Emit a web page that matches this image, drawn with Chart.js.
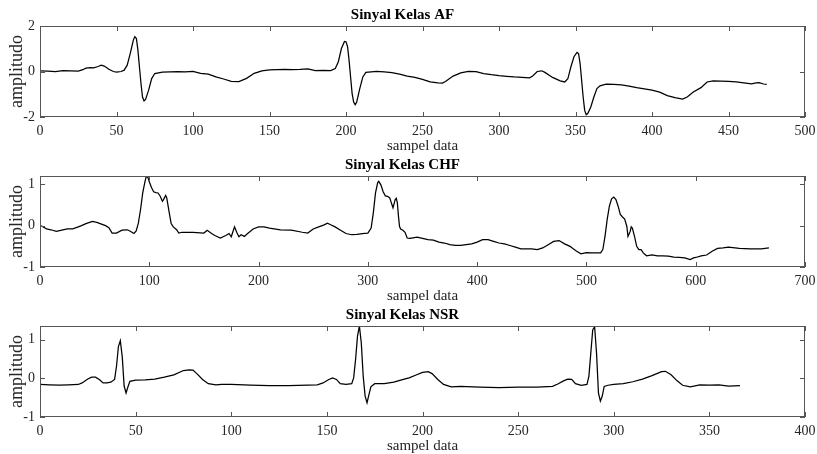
<!DOCTYPE html>
<html>
<head>
<meta charset="utf-8">
<script src="https://cdn.jsdelivr.net/npm/chart.js@4.4.1/dist/chart.umd.min.js"></script>
<style>
  body { margin: 0; background: #fff; width: 817px; height: 454px; overflow: hidden; position: relative; }
  canvas { position: absolute; left: 0; }
</style>
</head>
<body>
<canvas id="afChart" width="817" height="156" style="top:0px"></canvas>
<canvas id="chfChart" width="817" height="156" style="top:150px"></canvas>
<canvas id="nsrChart" width="817" height="156" style="top:300px"></canvas>
<script>
// Sinyal Kelas AF
const afIdx = [0,5,10,15,20,25,28,30,33,35,38,40,42,45,48,50,53,55,57,59,61,62,63,64,65,66,67,68,69,71,73,75,80,85,90,95,100,105,110,115,120,125,130,135,140,145,150,155,160,165,170,175,180,185,190,193,195,197,199,200,201,202,203,204,205,206,207,209,211,213,220,225,230,235,240,245,250,255,260,263,265,270,275,280,285,290,295,300,305,310,315,320,322,325,328,330,335,340,343,345,347,349,351,352,353,354,355,356,357,358,360,362,364,366,370,375,380,385,390,395,400,405,410,415,420,423,427,432,436,440,445,450,455,460,465,468,470,473,475];
const afAmp = [0.03,0.02,0.0,0.04,0.03,0.02,0.08,0.15,0.17,0.16,0.22,0.28,0.24,0.1,0.0,-0.03,0.0,0.06,0.28,0.8,1.38,1.53,1.45,0.94,0.2,-0.53,-1.12,-1.29,-1.23,-0.82,-0.31,-0.09,-0.03,-0.02,-0.01,-0.02,0.0,-0.08,-0.12,-0.24,-0.33,-0.43,-0.44,-0.3,-0.08,0.03,0.07,0.08,0.09,0.08,0.09,0.11,0.04,0.05,0.04,0.13,0.43,1.01,1.32,1.31,1.1,0.5,-0.24,-0.97,-1.34,-1.46,-1.34,-0.75,-0.24,-0.04,0.0,-0.02,-0.05,-0.12,-0.2,-0.26,-0.35,-0.46,-0.5,-0.51,-0.44,-0.2,-0.06,0.01,-0.01,-0.09,-0.14,-0.18,-0.21,-0.24,-0.26,-0.28,-0.2,0.0,0.03,-0.04,-0.26,-0.41,-0.46,-0.32,0.21,0.65,0.84,0.79,0.35,-0.38,-1.12,-1.71,-1.9,-1.85,-1.56,-1.12,-0.75,-0.63,-0.56,-0.57,-0.59,-0.64,-0.71,-0.76,-0.82,-0.91,-1.06,-1.15,-1.21,-1.12,-0.9,-0.71,-0.46,-0.41,-0.42,-0.43,-0.46,-0.5,-0.54,-0.5,-0.49,-0.55,-0.57];
const afXTicks = [0,50,100,150,200,250,300,350,400,450,500];
const afYTicks = [-2,0,2];

// Sinyal Kelas CHF
const chfIdx = [0,3,6,10,15,20,25,30,35,38,42,48,52,55,60,63,66,70,75,80,83,86,88,90,92,94,96,97,98,99,100,102,104,106,108,110,112,113,115,116,118,120,122,125,127,130,140,150,153,157,160,165,170,173,175,178,180,182,184,187,190,195,200,205,210,220,230,240,245,250,255,260,263,266,270,275,280,285,290,297,300,303,305,307,309,310,312,314,316,318,320,322,323,325,326,327,328,329,330,332,334,336,338,340,345,350,355,360,365,370,375,380,385,390,395,400,405,410,415,420,425,430,435,440,445,450,455,460,465,470,475,480,485,490,495,500,505,510,513,515,517,519,521,523,525,527,529,531,533,535,537,538,540,541,542,544,546,548,550,552,555,560,565,570,575,580,585,590,595,598,600,605,610,615,620,625,630,640,650,660,667];
const chfAmp = [0.0,-0.03,-0.08,-0.1,-0.14,-0.11,-0.08,-0.08,-0.03,0.0,0.05,0.1,0.08,0.05,0.0,-0.05,-0.18,-0.18,-0.11,-0.1,-0.14,-0.19,-0.13,0.06,0.39,0.79,1.06,1.17,1.19,1.15,1.06,0.92,0.82,0.8,0.79,0.71,0.59,0.63,0.73,0.67,0.35,0.05,-0.03,-0.1,-0.18,-0.16,-0.16,-0.18,-0.11,-0.19,-0.24,-0.3,-0.24,-0.19,-0.27,-0.03,-0.16,-0.27,-0.22,-0.26,-0.19,-0.08,-0.03,-0.03,-0.06,-0.1,-0.11,-0.16,-0.18,-0.08,-0.03,0.02,0.06,0.02,-0.03,-0.11,-0.19,-0.22,-0.21,-0.19,-0.18,-0.06,0.31,0.79,1.04,1.07,0.98,0.82,0.72,0.71,0.67,0.51,0.43,0.63,0.66,0.55,0.23,-0.02,-0.08,-0.11,-0.16,-0.3,-0.31,-0.3,-0.28,-0.31,-0.34,-0.35,-0.4,-0.42,-0.46,-0.48,-0.48,-0.46,-0.44,-0.4,-0.34,-0.34,-0.38,-0.42,-0.44,-0.48,-0.52,-0.56,-0.56,-0.56,-0.58,-0.54,-0.46,-0.38,-0.36,-0.44,-0.5,-0.6,-0.68,-0.65,-0.66,-0.66,-0.66,-0.58,-0.26,0.15,0.47,0.65,0.69,0.63,0.47,0.27,0.21,0.16,-0.02,-0.26,-0.14,-0.03,-0.06,-0.26,-0.5,-0.58,-0.58,-0.66,-0.73,-0.71,-0.73,-0.73,-0.74,-0.76,-0.77,-0.78,-0.82,-0.78,-0.77,-0.73,-0.71,-0.62,-0.55,-0.54,-0.52,-0.55,-0.56,-0.56,-0.54];
const chfXTicks = [0,100,200,300,400,500,600,700];
const chfYTicks = [-1,0,1];

// Sinyal Kelas NSR
const nsrIdx = [0,5,10,15,20,22,25,27,29,31,33,35,37,39,40,41,42,43,44,45,46,47,50,55,60,65,70,75,78,80,82,85,88,92,95,100,110,120,130,140,145,148,151,153,155,157,160,163,164,165,166,167,168,169,170,171,172,173,175,180,185,190,193,197,200,203,205,208,211,215,220,230,240,250,260,268,271,274,276,278,280,283,286,287,288,289,290,291,292,293,294,295,297,300,305,310,315,320,325,327,330,333,336,340,345,350,355,360,366];
const nsrAmp = [-0.16,-0.17,-0.18,-0.17,-0.16,-0.12,-0.02,0.03,0.03,-0.03,-0.12,-0.12,-0.1,-0.03,0.31,0.82,0.97,0.56,-0.2,-0.38,-0.22,-0.08,-0.05,-0.04,-0.02,0.03,0.09,0.2,0.22,0.21,0.12,-0.03,-0.14,-0.17,-0.16,-0.16,-0.18,-0.19,-0.19,-0.18,-0.17,-0.12,-0.03,0.01,-0.03,-0.14,-0.16,-0.14,0.01,0.48,1.08,1.35,0.91,0.05,-0.46,-0.63,-0.42,-0.22,-0.14,-0.14,-0.1,-0.03,0.01,0.09,0.15,0.17,0.12,-0.03,-0.16,-0.22,-0.21,-0.23,-0.24,-0.23,-0.23,-0.21,-0.14,-0.06,-0.02,-0.03,-0.14,-0.18,-0.16,0.05,0.65,1.25,1.33,0.65,-0.38,-0.59,-0.46,-0.21,-0.18,-0.16,-0.14,-0.09,-0.02,0.07,0.17,0.18,0.09,-0.06,-0.18,-0.22,-0.17,-0.18,-0.17,-0.2,-0.19];
const nsrXTicks = [0,50,100,150,200,250,300,350,400];
const nsrYTicks = [-1,0,1];

const axisGrey = '#555';

// MATLAB style box with ticks pointing inward
const boxTicks = {
  id: 'boxTicks',
  afterDatasetsDraw(chart) {
    const { ctx, chartArea: a, scales: { x, y } } = chart;
    const len = 5;
    ctx.save();
    ctx.strokeStyle = axisGrey;
    ctx.lineWidth = 1;
    ctx.beginPath();
    x.ticks.forEach(t => {
      const px = Math.round(x.getPixelForValue(t.value)) + 0.5;
      ctx.moveTo(px, a.bottom); ctx.lineTo(px, a.bottom - len);
      ctx.moveTo(px, a.top); ctx.lineTo(px, a.top + len);
    });
    y.ticks.forEach(t => {
      const py = Math.round(y.getPixelForValue(t.value)) + 0.5;
      ctx.moveTo(a.left, py); ctx.lineTo(a.left + len, py);
      ctx.moveTo(a.right, py); ctx.lineTo(a.right - len, py);
    });
    ctx.stroke();
    ctx.strokeRect(Math.round(a.left) + 0.5, Math.round(a.top) + 0.5, Math.round(a.width) - 1, Math.round(a.height) - 1);
    ctx.restore();
  }
};

function makeChart(id, title, idx, amp, xTicks, yTicks, yMin, yMax) {
  const points = idx.map((v, i) => ({ x: v, y: amp[i] }));
  return new Chart(document.getElementById(id), {
    type: 'line',
    data: {
      datasets: [{
        data: points,
        borderColor: '#000',
        borderWidth: 1.25,
        pointRadius: 0,
        tension: 0,
        fill: false
      }]
    },
    options: {
      responsive: false,
      animation: false,
      devicePixelRatio: 1,
      layout: { padding: { left: 0, right: 12, top: 0, bottom: 0 } },
      plugins: {
        legend: { display: false },
        tooltip: { enabled: false },
        title: {
          display: true,
          text: title,
          color: '#000',
          font: { family: '"Liberation Serif", "Times New Roman", serif', size: 15, weight: 'bold' },
          padding: { top: 6, bottom: 2 }
        }
      },
      scales: {
        x: {
          type: 'linear',
          min: xTicks[0],
          max: xTicks[xTicks.length - 1],
          afterBuildTicks: s => { s.ticks = xTicks.map(v => ({ value: v })); },
          afterFit: s => { s.height = 39; s.paddingLeft = 0; s.paddingRight = 0; },
          grid: { display: false, drawTicks: false },
          border: { display: false },
          ticks: {
            padding: 6,
            color: '#262626',
            maxRotation: 0,
            autoSkip: false,
            font: { family: '"Liberation Serif", "Times New Roman", serif', size: 14 }
          },
          title: {
            display: true,
            text: 'sampel data',
            color: '#262626',
            font: { family: '"Liberation Serif", "Times New Roman", serif', size: 15 },
            padding: { top: 0, bottom: 1 }
          }
        },
        y: {
          min: yMin,
          max: yMax,
          afterBuildTicks: s => { s.ticks = yTicks.map(v => ({ value: v })); },
          afterFit: s => { s.width = 40; s.paddingTop = 0; s.paddingBottom = 0; },
          grid: { display: false, drawTicks: false },
          border: { display: false },
          ticks: {
            padding: 5,
            color: '#262626',
            font: { family: '"Liberation Serif", "Times New Roman", serif', size: 14 }
          },
          title: {
            display: true,
            text: 'amplitudo',
            color: '#262626',
            font: { family: '"Liberation Serif", "Times New Roman", serif', size: 18 },
            padding: { top: 6, bottom: 0 }
          }
        }
      }
    },
    plugins: [boxTicks]
  });
}

makeChart('afChart', 'Sinyal Kelas AF', afIdx, afAmp, afXTicks, afYTicks, -2, 2);
makeChart('chfChart', 'Sinyal Kelas CHF', chfIdx, chfAmp, chfXTicks, chfYTicks, -1, 1.2);
makeChart('nsrChart', 'Sinyal Kelas NSR', nsrIdx, nsrAmp, nsrXTicks, nsrYTicks, -1, 1.35);
</script>
</body>
</html>
